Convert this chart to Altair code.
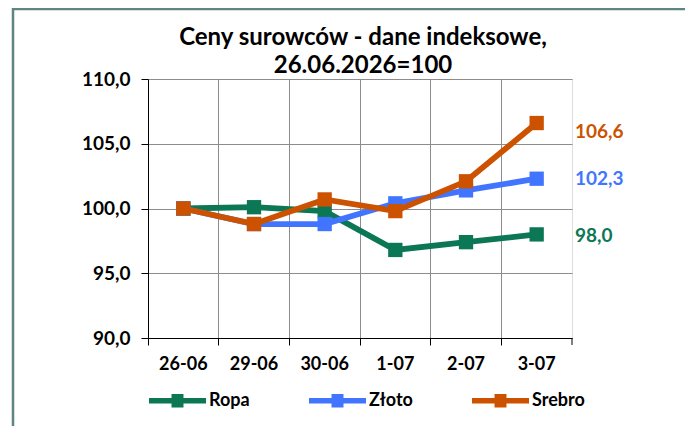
import altair as alt
import pandas as pd

dates = ["26-06", "29-06", "30-06", "1-07", "2-07", "3-07"]
ropa = [100.0, 100.1, 99.8, 96.8, 97.4, 98.0]
zloto = [100.0, 98.8, 98.8, 100.4, 101.4, 102.3]
srebro = [100.0, 98.8, 100.7, 99.8, 102.1, 106.6]

series_names = ["Ropa", "Złoto", "Srebro"]
series_values = [ropa, zloto, srebro]
series_colors = ["#0C7755", "#4275FF", "#CC5200"]
title_lines = ["Ceny surowców - dane indeksowe,", "26.06.2026=100"]
label_dy = {"Ropa": 2, "Złoto": 0, "Srebro": 9}

rows = []
for name, vals in zip(series_names, series_values):
    for d, v in zip(dates, vals):
        rows.append({"date": d, "series": name, "value": v})
df = pd.DataFrame(rows)

FONT = "Lato"
W, H = 424, 259

color_scale = alt.Scale(domain=series_names, range=series_colors)
legend_path = ("M-1,-0.1 L1,-0.1 L1,0.1 L-1,0.1 Z "
               "M-0.21,-0.24 L0.21,-0.24 L0.21,0.24 L-0.21,0.24 Z")
legend = alt.Legend(
    orient="none", legendX=1, legendY=293, direction="horizontal", columns=3,
    title=None, symbolType=legend_path, symbolSize=3249, symbolStrokeWidth=0,
    symbolOpacity=1, labelFont=FONT, labelFontSize=18, labelFontWeight="bold",
    labelColor="black", labelOffset=3, columnPadding=59, padding=0,
)

x_enc = alt.X(
    "date:N", sort=dates, bandPosition=0.5,
    scale=alt.Scale(type="band", paddingInner=0, paddingOuter=0),
    axis=alt.Axis(
        title=None, bandPosition=0, labelAngle=0, labelFont=FONT, labelFontSize=18,
        labelFontWeight="bold", labelColor="black", labelPadding=10,
        tickSize=7, tickColor="black", domainColor="black", grid=True,
        gridColor="#8C8C8C", gridWidth=1,
    ),
)
y_scale = alt.Scale(domain=[90, 110], nice=False, zero=False)
y_enc = alt.Y(
    "value:Q",
    scale=y_scale,
    axis=alt.Axis(
        title=None, values=[90, 95, 100, 105, 110],
        labelExpr="replace(format(datum.value, '.1f'), '.', ',')",
        labelFont=FONT, labelFontSize=19, labelFontWeight="bold", labelColor="black",
        labelPadding=11, tickSize=7, tickColor="black", domainColor="black",
        grid=True, gridColor="#8C8C8C", gridWidth=1,
    ),
)
c_enc = alt.Color("series:N", scale=color_scale, legend=legend)

base = alt.Chart(df)
one = alt.Chart(pd.DataFrame({"a": [0]}))
layers = []

frame = one.mark_rect(
    fill="white", fillOpacity=0, stroke="#5E8580", strokeWidth=2.5
).encode(x=alt.value(-135), x2=alt.value(700), y=alt.value(-70), y2=alt.value(500))
layers.append(frame)

title = one.mark_text(
    text=title_lines, font=FONT, fontSize=24, fontWeight="bold", color="black",
    align="center", baseline="alphabetic", lineHeight=28,
).encode(x=alt.value(W / 2 + 3), y=alt.value(-34))
layers.append(title)

end_tick = one.mark_rule(color="black", strokeWidth=1).encode(
    x=alt.value(W), y=alt.value(H), y2=alt.value(H + 7)
)
layers.append(end_tick)

for name in series_names:
    sub = base.transform_filter(alt.datum.series == name)
    layers.append(sub.mark_line(strokeWidth=5.8).encode(x=x_enc, y=y_enc, color=c_enc))
    layers.append(
        sub.mark_point(shape="square", size=205, filled=True, opacity=1).encode(
            x=x_enc, y=y_enc, color=c_enc
        )
    )

for name in series_names:
    lab = base.transform_filter(
        (alt.datum.series == name) & (alt.datum.date == dates[-1])
    ).transform_calculate(
        txt="replace(format(datum.value, '.1f'), '.', ',')"
    ).mark_text(
        align="left", baseline="middle", font=FONT, fontSize=19, fontWeight="bold",
        dy=label_dy[name],
    ).encode(
        x=alt.value(W + 3), y=alt.Y("value:Q", scale=y_scale),
        text="txt:N", color=alt.Color("series:N", scale=color_scale, legend=legend),
    )
    layers.append(lab)

chart = alt.layer(*layers).properties(
    width=W, height=H,
    autosize=alt.AutoSizeParams(type="none"),
    padding={"left": 140, "top": 71, "right": 113, "bottom": 88},
).configure_view(stroke="#8C8C8C", strokeWidth=1).configure(background="white")

chart.save("out.html", embed_options={"renderer": "svg", "actions": False})
